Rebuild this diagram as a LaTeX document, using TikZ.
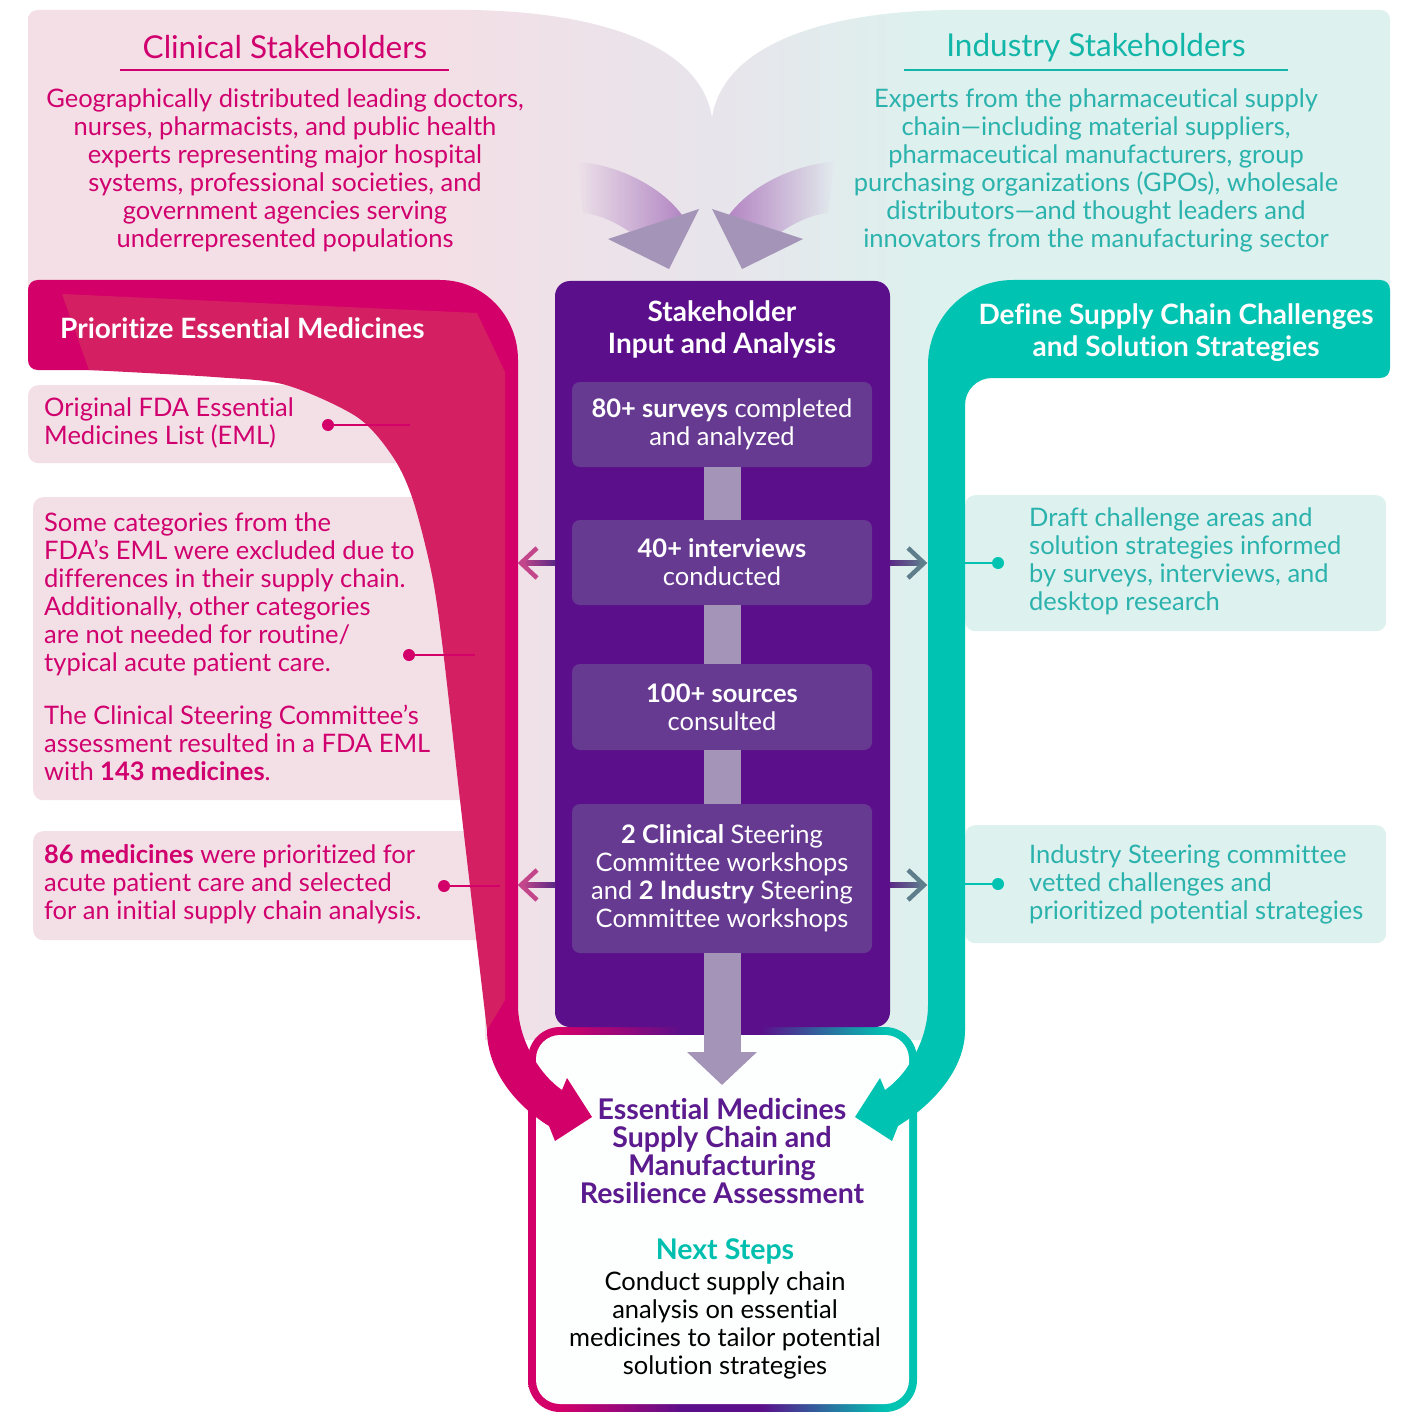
\documentclass[tikz,border=0pt]{standalone}
\usepackage{fontspec}
\setmainfont{Lato}[Ligatures={NoCommon,NoContextual}]
\usetikzlibrary{arrows.meta,fadings}

\definecolor{mag}{HTML}{D4006A}
\definecolor{magtext}{HTML}{D0006E}
\definecolor{crim}{HTML}{D41F62}
\definecolor{tealband}{HTML}{00C3B2}
\definecolor{tealtext}{HTML}{2BB2AD}
\definecolor{tealtitle}{HTML}{12B6A8}
\definecolor{purp}{HTML}{5B0F8B}
\definecolor{innerp}{HTML}{673A91}
\definecolor{lav}{HTML}{A394B8}
\definecolor{tailc}{HTML}{B487C4}
\definecolor{palepink}{HTML}{F4DFE6}
\definecolor{lilac}{HTML}{E8E4EB}
\definecolor{paleteal}{HTML}{DDF1EE}
\definecolor{pinkbox}{HTML}{F3DFE6}
\definecolor{tealbox}{HTML}{DDF1EE}
\definecolor{titlepurp}{HTML}{5B1A8E}
\definecolor{nextteal}{HTML}{00BFAE}
\definecolor{arrpink}{HTML}{C4468A}
\definecolor{arrpurp}{HTML}{5B2A86}
\definecolor{arrteal}{HTML}{5F7E8C}
\definecolor{boxwhite}{HTML}{FDFEFE}

\pgfdeclarehorizontalshading{bgshade}{100bp}{color(0bp)=(palepink); color(40bp)=(palepink); color(50bp)=(lilac); color(58bp)=(paleteal); color(100bp)=(paleteal)}
\pgfdeclarehorizontalshading{boxshade}{100bp}{color(0bp)=(mag); color(29bp)=(mag); color(45bp)=(purp); color(55bp)=(purp); color(71bp)=(tealband); color(100bp)=(tealband)}

\tikzfading[name=fadeR, left color=transparent!100, right color=transparent!0]
\tikzfading[name=fadeL, left color=transparent!0, right color=transparent!100]

\tikzset{
  txt/.style={inner sep=0pt, font=\fontsize{25.5}{28}\selectfont},
  ltxt/.style={txt, align=left, anchor=west, text=magtext},
  rtxt/.style={txt, align=left, anchor=west, text=tealtext},
  pbx/.style={fill=pinkbox, rounded corners=10pt, inner sep=0pt, anchor=north west},
  tbx/.style={fill=tealbox, rounded corners=10pt, inner sep=0pt, anchor=north west},
  ibox/.style={fill=innerp, rounded corners=8pt, minimum width=300pt, inner sep=0pt, text=white, align=center, font=\fontsize{25.5}{28}\selectfont},
  vbar/.style={draw=lav, line width=37pt},
  dotline/.style={line width=2.5pt},
  sidechev/.style={line width=4.5pt},
  htitle/.style={inner sep=0pt, text=white, font=\bfseries\fontsize{28}{32}\selectfont, align=center},
  sttitle/.style={inner sep=0pt, font=\fontsize{31.5}{36}\selectfont},
}

\begin{document}
\begin{tikzpicture}[x=1pt,y=-1pt]
\useasboundingbox (0,0) rectangle (1409,1412);
\fill[white] (0,0) rectangle (1409,1412);

% pale background
\shade[shading=bgshade] (28,290) -- (28,20) .. controls (28,14) and (32,10) .. (38,10) -- (470,10) .. controls (610,12) and (702,50) .. (712,118) .. controls (722,50) and (812,12) .. (950,10) -- (1380,10) .. controls (1386,10) and (1390,14) .. (1390,20) -- (1390,300) -- (965,300) -- (965,1040) -- (485,1040) -- (485,300) -- cycle;

% top arrows
\fill[tailc, path fading=fadeR] (577,162) .. controls (615,164) and (660,185) .. (682,215) -- (630,232) .. controls (615,222) and (600,215) .. (583,213) -- cycle;
\fill[lav] (608,239) -- (699,209) -- (669,269) -- cycle;
\fill[tailc, path fading=fadeL] (834,162) .. controls (796,164) and (751,185) .. (729,215) -- (781,232) .. controls (796,222) and (811,215) .. (828,213) -- cycle;
\fill[lav] (803,239) -- (712,209) -- (742,269) -- cycle;

% info boxes
\node[pbx, minimum width=422pt, minimum height=78pt] (boxA) at (28,385) {};
\node[pbx, minimum width=447pt, minimum height=303pt] (boxB) at (33,497) {};
\node[pbx, minimum width=467pt, minimum height=109pt] (boxC) at (33,831) {};
\node[tbx, minimum width=421pt, minimum height=136pt] (boxD) at (965,495) {};
\node[tbx, minimum width=421pt, minimum height=118pt] (boxE) at (965,825) {};

% final box
\shade[shading=boxshade, rounded corners=32pt] (528,1027) rectangle (917,1412);
\fill[boxwhite, rounded corners=24pt] (536,1035) rectangle (909,1404);

% magenta band
\fill[mag] (38,280) -- (440,280) .. controls (484,280) and (518,316) .. (518,360) -- (518,1005) .. controls (518,1040) and (540,1075) .. (562,1090) -- (567,1078) -- (592,1117) -- (555,1141) -- (549,1126) .. controls (515,1105) and (487,1070) .. (487,1030) -- (487,370) -- (38,370) .. controls (32,370) and (28,366) .. (28,360) -- (28,290) .. controls (28,284) and (32,280) .. (38,280) -- cycle;
\fill[crim] (62,294) -- (477,313) -- (505,372) -- (505,1000) -- (487,1030) -- plot[smooth] coordinates {(487,1030) (474,920) (460,800) (443,650) (432,575) (413,500) (393,457) (357,417) (286,385) (214,377) (89,370)} -- cycle;

% teal band
\fill[tealband] (1013,280) -- (1380,280) .. controls (1386,280) and (1390,284) .. (1390,290) -- (1390,368) .. controls (1390,374) and (1386,378) .. (1380,378) -- (992,378) .. controls (977,378) and (965,390) .. (965,405) -- (965,1030) .. controls (965,1070) and (932,1105) .. (898,1126) -- (892,1141) -- (855,1117) -- (880,1078) -- (885,1090) .. controls (907,1075) and (928,1040) .. (928,1005) -- (928,365) .. controls (928,318) and (966,280) .. (1013,280) -- cycle;

% purple box
\node[fill=purp, rounded corners=15pt, minimum width=335pt, minimum height=746pt, inner sep=0pt] (pbox) at (722.5,654) {};
\node[ibox, minimum height=85pt] (b1) at (722,424.5) {\textbf{80+ surveys} completed\\and analyzed};
\node[ibox, minimum height=85pt] (b2) at (722,562.5) {\textbf{40+ interviews}\\conducted};
\node[ibox, minimum height=86pt] (b3) at (722,707) {\textbf{100+ sources}\\consulted};
\node[ibox, minimum height=149pt] (b4) at (722,878.5) {\textbf{2 Clinical} Steering\\Committee workshops\\and \textbf{2 Industry} Steering\\Committee workshops};
\draw[vbar] (b1.south) -- (b2.north);
\draw[vbar] (b2.south) -- (b3.north);
\draw[vbar] (b3.south) -- (b4.north);
\coordinate (downtip) at (722,1085);
\draw[vbar, -{Triangle[width=68pt,length=33pt]}] (b4.south) -- (downtip);

% side arrows
\coordinate (pl1) at (555,563); \coordinate (al1) at (521,563);
\coordinate (pl2) at (555,885); \coordinate (al2) at (521,885);
\coordinate (pr1) at (890,563); \coordinate (ar1) at (924,563);
\coordinate (pr2) at (890,885); \coordinate (ar2) at (924,885);
\foreach \a/\p in {al1/pl1, al2/pl2}{
  \shade[left color=arrpink, right color=arrpurp] ([yshift=2.5pt]\a) rectangle ([yshift=-2.5pt]\p);
  \draw[sidechev, arrpink] ([xshift=16pt,yshift=15pt]\a) -- (\a) -- ([xshift=16pt,yshift=-15pt]\a);
}
\foreach \a/\p in {ar1/pr1, ar2/pr2}{
  \shade[left color=arrpurp, right color=arrteal] ([yshift=2.5pt]\p) rectangle ([yshift=-2.5pt]\a);
  \draw[sidechev, arrteal] ([xshift=-16pt,yshift=15pt]\a) -- (\a) -- ([xshift=-16pt,yshift=-15pt]\a);
}

% dots and lines
\coordinate (dA) at (328,425); \coordinate (eA) at (410,425);
\coordinate (dB) at (409,655); \coordinate (eB) at (475,655);
\coordinate (dC) at (444,886); \coordinate (eC) at (500,886);
\coordinate (dD) at (998,563); \coordinate (eD) at (965,563);
\coordinate (dE) at (998,884); \coordinate (eE) at (965,884);
\foreach \d/\e in {dA/eA, dB/eB, dC/eC}{
  \draw[dotline, mag] (\d) -- (\e);
  \fill[mag] (\d) circle (6pt);
}
\foreach \d/\e in {dD/eD, dE/eE}{
  \draw[dotline, tealband] (\d) -- (\e);
  \fill[tealband] (\d) circle (6pt);
}

% top texts
\node[sttitle, text=magtext] (ct) at (285,47) {Clinical Stakeholders};
\draw[magtext, line width=2pt] (120,70) -- (449,70);
\node[txt, align=center, text=magtext] (cb) at (285,170) {Geographically distributed leading doctors,\\nurses, pharmacists, and public health\\experts representing major hospital\\systems, professional societies, and\\government agencies serving\\underrepresented populations};
\node[sttitle, text=tealtitle] (it) at (1096,48) {Industry Stakeholders};
\draw[tealtitle, line width=2pt] (904,70) -- (1288,70);
\node[txt, align=center, text=tealtext] (ib) at (1096,170) {Experts from the pharmaceutical supply\\chain—including material suppliers,\\pharmaceutical manufacturers, group\\purchasing organizations (GPOs), wholesale\\distributors—and thought leaders and\\innovators from the manufacturing sector};

% headers
\node[htitle, anchor=west] (mh) at (60,328) {Prioritize Essential Medicines};
\node[htitle] (th) at (1176,333) {Define Supply Chain Challenges\\and Solution Strategies};
\node[htitle] (pt) at (722,329) {Stakeholder\\Input and Analysis};

% info texts
\node[ltxt] (tA) at (44,423) {Original FDA Essential\\Medicines List (EML)};
\node[ltxt] (tB) at (44,646.5) {Some categories from the\\FDA’s EML were excluded due to\\differences in their supply chain.\\Additionally, other categories\\are not needed for routine/\\typical acute patient care.\\[25pt]The Clinical Steering Committee’s\\assessment resulted in a FDA EML\\with \textbf{143 medicines}.};
\node[ltxt] (tC) at (44,884) {\textbf{86 medicines} were prioritized for\\acute patient care and selected\\for an initial supply chain analysis.};
\node[rtxt] (tD) at (1029,561) {Draft challenge areas and\\solution strategies informed\\by surveys, interviews, and\\desktop research};
\node[rtxt] (tE) at (1029,884) {Industry Steering committee\\vetted challenges and\\prioritized potential strategies};

% final texts
\node[inner sep=0pt, text=titlepurp, font=\bfseries\fontsize{28.5}{28}\selectfont, align=center] (ft) at (722,1151) {Essential Medicines\\Supply Chain and\\Manufacturing\\Resilience Assessment};
\node[inner sep=0pt, text=nextteal, font=\bfseries\fontsize{28.5}{30}\selectfont] (ns) at (725,1251) {Next Steps};
\node[txt, align=center, text=black] (nt) at (725,1325) {Conduct supply chain\\analysis on essential\\medicines to tailor potential\\solution strategies};
\end{tikzpicture}
\end{document}
